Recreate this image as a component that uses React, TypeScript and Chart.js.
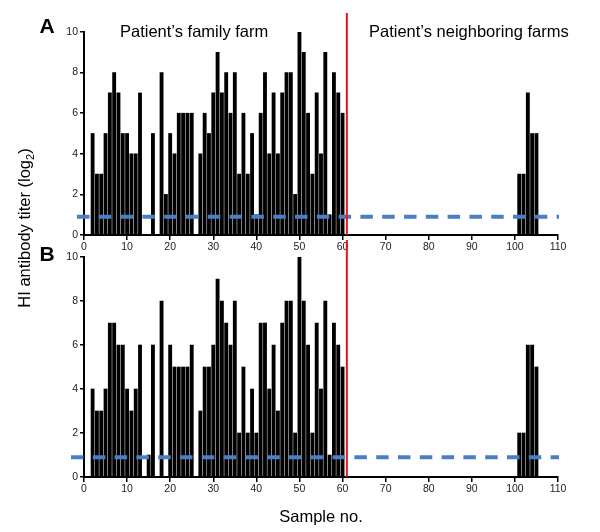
import React, { useEffect, useRef } from "react";
import { Chart, registerables } from "chart.js";

Chart.register(...registerables);

// Sample numbers (x) for which bars are drawn
const sampleNos = [
  1, 2, 3, 4, 5, 6, 7, 8, 9, 10,
  11, 12, 13, 14, 15, 16, 17, 18, 19, 20,
  21, 22, 23, 24, 25, 26, 27, 28, 29, 30,
  31, 32, 33, 34, 35, 36, 37, 38, 39, 40,
  41, 42, 43, 44, 45, 46, 47, 48, 49, 50,
  51, 52, 53, 54, 55, 56, 57, 58, 59, 60,
  101, 102, 103, 104, 105,
];

// Panel A HI titers (log2)
const titersA = [
  0, 5, 3, 3, 5, 7, 8, 7, 5, 5,
  4, 4, 7, 0, 0, 5, 0, 8, 2, 5,
  4, 6, 6, 6, 6, 0, 4, 6, 5, 7,
  9, 7, 8, 6, 8, 3, 6, 3, 5, 1,
  6, 8, 4, 7, 4, 7, 8, 8, 2, 10,
  9, 6, 3, 7, 4, 9, 1, 8, 7, 6,
  3, 3, 7, 5, 5,
];

// Panel B HI titers (log2)
const titersB = [
  0, 4, 3, 3, 4, 7, 7, 6, 6, 4,
  3, 4, 6, 0, 1, 6, 0, 8, 0, 6,
  5, 5, 5, 5, 6, 0, 3, 5, 5, 6,
  9, 8, 7, 6, 8, 2, 5, 2, 4, 2,
  7, 7, 4, 6, 3, 7, 8, 8, 2, 10,
  8, 6, 2, 7, 4, 8, 1, 7, 6, 5,
  2, 2, 6, 6, 5,
];

const xTickValues = [0, 10, 20, 30, 40, 50, 60, 70, 80, 90, 100, 110];
const yTickValues = [0, 2, 4, 6, 8, 10];
const cutoffTiter = 0.9;
const dividerSample = 61;
const farmLabels = ["Patient\u2019s family farm", "Patient\u2019s neighboring farms"];

const FONT = "'Liberation Sans', Arial, sans-serif";

const overlayPlugin = {
  id: "overlay",
  afterDatasetsDraw(chart: any, _args: any, opts: any) {
    const { ctx, chartArea } = chart;
    const x = chart.scales.x;
    const y = chart.scales.y;
    ctx.save();
    // dashed cutoff line
    const yy = y.getPixelForValue(cutoffTiter);
    ctx.strokeStyle = "#4a7fc6";
    ctx.lineWidth = 4;
    ctx.setLineDash([12.5, 9.3]);
    ctx.beginPath();
    ctx.moveTo(x.getPixelForValue(0) + opts.dashStartOffset, yy);
    ctx.lineTo(x.getPixelForValue(110) + 1, yy);
    ctx.stroke();
    ctx.setLineDash([]);
    // red divider
    const xx = x.getPixelForValue(dividerSample);
    ctx.strokeStyle = "#e8141c";
    ctx.lineWidth = 2;
    ctx.beginPath();
    ctx.moveTo(xx, opts.redTop);
    ctx.lineTo(xx, chartArea.bottom);
    ctx.stroke();
    // farm labels
    if (opts.showLabels) {
      ctx.fillStyle = "#000";
      ctx.font = `16.5px ${FONT}`;
      ctx.textBaseline = "alphabetic";
      ctx.textAlign = "left";
      ctx.fillText(farmLabels[0], 120, 37);
      ctx.fillText(farmLabels[1], 369, 37);
    }
    ctx.restore();
  },
};

function makeConfig(values: number[], topPad: number, xAxisH: number, overlay: any) {
  return {
    type: "bar",
    data: {
      datasets: [
        {
          data: sampleNos.map((s, i) => ({ x: s, y: values[i] })),
          backgroundColor: "#000",
          borderWidth: 0,
          barThickness: 3.2,
        },
      ],
    },
    options: {
      responsive: false,
      animation: false,
      events: [],
      layout: { padding: { left: 54, right: 42, top: topPad, bottom: 0 } },
      plugins: { legend: { display: false }, tooltip: { enabled: false }, overlay },
      scales: {
        x: {
          type: "linear",
          min: 0,
          max: 110,
          offset: false,
          afterFit: (s: any) => { s.height = xAxisH; },
          afterBuildTicks: (s: any) => { s.ticks = xTickValues.map((v) => ({ value: v })); },
          grid: { display: true, offset: false, drawOnChartArea: false, drawTicks: true, tickLength: 5, color: "#000", lineWidth: 1.5 },
          border: { display: true, color: "#000", width: 2 },
          ticks: { color: "#222", font: { family: FONT, size: 10.5 }, padding: 1, maxRotation: 0, autoSkip: false },
        },
        y: {
          min: 0,
          max: 10,
          afterFit: (s: any) => { s.width = 30; },
          afterBuildTicks: (s: any) => { s.ticks = yTickValues.map((v) => ({ value: v })); },
          grid: { display: true, drawOnChartArea: false, drawTicks: true, tickLength: 4, color: "#000", lineWidth: 1.5 },
          border: { display: true, color: "#000", width: 2 },
          ticks: { color: "#222", font: { family: FONT, size: 10.5 }, padding: 2 },
        },
      },
    },
    plugins: [overlayPlugin],
  } as any;
}

export default function App() {
  const refA = useRef<HTMLCanvasElement>(null);
  const refB = useRef<HTMLCanvasElement>(null);

  useEffect(() => {
    const a = new Chart(refA.current!, makeConfig(titersA, 32, 25, { dashStartOffset: -7, redTop: 13, showLabels: true }));
    const b = new Chart(refB.current!, makeConfig(titersB, 19, 55, { dashStartOffset: -13, redTop: 2, showLabels: false }));
    return () => {
      a.destroy();
      b.destroy();
    };
  }, []);

  const txt: React.CSSProperties = { position: "absolute", fontFamily: FONT, color: "#000", whiteSpace: "nowrap" };

  return (
    <div style={{ position: "absolute", left: 0, top: 0, width: 600, height: 532, background: "#fff", overflow: "hidden" }}>
      <canvas ref={refA} width={600} height={260} style={{ position: "absolute", left: 0, top: 0, width: 600, height: 260 }} />
      <canvas ref={refB} width={600} height={294} style={{ position: "absolute", left: 0, top: 238, width: 600, height: 294 }} />
      <div style={{ ...txt, left: 47, top: 26, transform: "translate(-50%,-50%)", fontSize: 21, fontWeight: "bold" }}>A</div>
      <div style={{ ...txt, left: 47, top: 254, transform: "translate(-50%,-50%)", fontSize: 21, fontWeight: "bold" }}>B</div>
      <div style={{ ...txt, left: 27, top: 228, transform: "translate(-50%,-50%) rotate(-90deg)", fontSize: 16.5, lineHeight: "20px" }}>
        HI antibody titer (log<sub style={{ fontSize: 11 }}>2</sub>)
      </div>
      <div style={{ ...txt, left: 321, top: 516, transform: "translate(-50%,-50%)", fontSize: 16.5 }}>Sample no.</div>
    </div>
  );
}
